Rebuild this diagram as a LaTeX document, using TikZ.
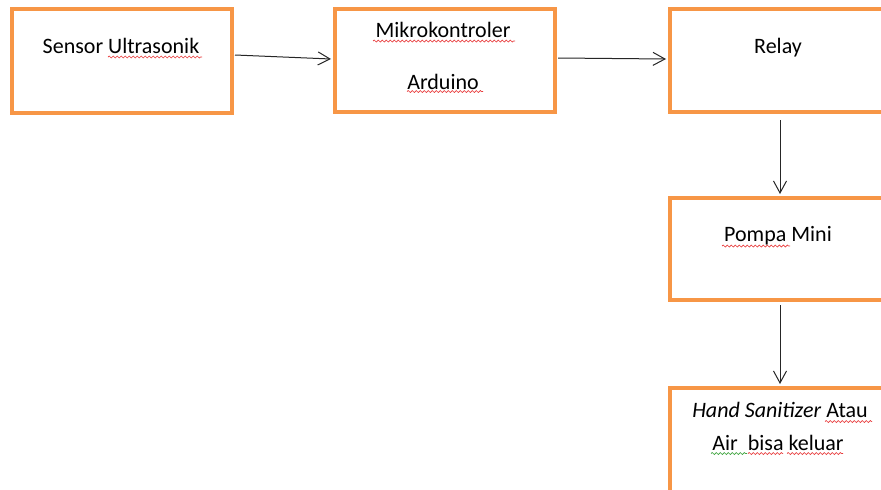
\documentclass[tikz,border=0pt]{standalone}
\usepackage{fontspec}
\setmainfont{Carlito}
\usetikzlibrary{arrows.meta,decorations.pathmorphing}
\definecolor{boxorange}{HTML}{F79646}
\definecolor{spellred}{HTML}{E8393A}
\definecolor{spellgreen}{HTML}{3AA33A}
\tikzset{
  blockbox/.style={draw=boxorange, line width=4pt, rectangle, minimum width=220pt, inner sep=0pt},
  lbl/.style={anchor=base, inner sep=0pt, font=\fontsize{22}{26}\selectfont},
  arr/.style={draw=black!85, line width=1pt, -{Straight Barb[length=12pt,width=13pt]}},
  squig/.style={line width=0.7pt, decorate, decoration={snake, segment length=4pt, amplitude=1pt}},
}
\begin{document}
\begin{tikzpicture}[x=1pt,y=-1pt]
\useasboundingbox (0,0) rectangle (881,490);
\clip (0,0) rectangle (881,490);
\fill[white] (0,0) rectangle (881,490);
% boxes
\node[blockbox, minimum height=104pt] (b1) at (122,61) {};
\node[blockbox, minimum height=103pt] (b2) at (445,60.5) {};
\node[blockbox, minimum height=103pt] (b3) at (780,60.5) {};
\node[blockbox, minimum height=102pt] (b4) at (780,249) {};
\node[blockbox, minimum height=104pt] (b5) at (780,440) {};
% labels
\node[lbl] (t1) at (121,53) {Sensor Ultrasonik};
\node[lbl] (t2a) at (443,37) {Mikrokontroler};
\node[lbl] (t2b) at (443,89.5) {Arduino};
\node[lbl] (t3) at (778,53) {Relay};
\node[lbl] (t4) at (778,241.7) {Pompa Mini};
\node[lbl] (t5a) at (780,417.7) {\textit{Hand Sanitizer} Atau};
\node[lbl] (t5b) at (778,450) {Air\ \ bisa keluar};
% spell-check squiggles
\draw[squig, spellred] (108,57) -- (202,57);
\draw[squig, spellred] (373,41) -- (515,41);
\draw[squig, spellred] (407,91.5) -- (483,91.5);
\draw[squig, spellred] (722,246) -- (790,246);
\draw[squig, spellred] (825,421.5) -- (872,421.5);
\draw[squig, spellgreen] (711,453.5) -- (747,453.5);
\draw[squig, spellred] (748,453.5) -- (783,453.5);
\draw[squig, spellred] (787,453.5) -- (843,453.5);
% connectors
\draw[arr] ([yshift=6pt,xshift=1pt]b1.east) -- ([yshift=1.5pt,xshift=-2pt]b2.west);
\draw[arr] ([yshift=2.5pt,xshift=1pt]b2.east) -- ([yshift=1.5pt,xshift=-2pt]b3.west);
\draw[arr] ([yshift=-6pt]b3.south) -- ([yshift=2pt]b4.north);
\draw[arr] ([yshift=-3pt]b4.south) -- ([yshift=2pt]b5.north);
\end{tikzpicture}
\end{document}
